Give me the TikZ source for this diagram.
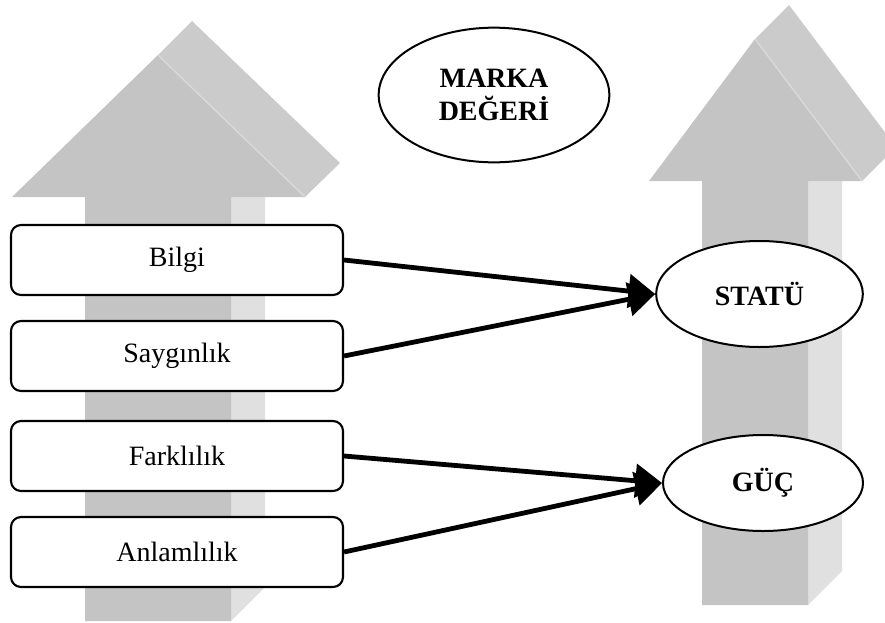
\documentclass[tikz,border=0pt]{standalone}
\usepackage{fontspec}
\setmainfont{Liberation Serif}
\usetikzlibrary{shapes.geometric,arrows.meta}
\definecolor{facefront}{HTML}{C4C4C4}
\definecolor{facetop}{HTML}{CBCBCB}
\definecolor{faceside}{HTML}{E0E0E0}
\definecolor{ridge}{HTML}{DADADA}
\begin{document}
\begin{tikzpicture}[x=0.75pt,y=-0.75pt,
  every node/.style={font=\fontsize{21}{25}\selectfont},
  itembox/.style={draw, line width=1.6pt, rounded corners=7.5pt, fill=white,
    minimum width=249pt, minimum height=52.5pt, inner sep=0pt},
  goal/.style={draw, ellipse, line width=1.5pt, fill=white, inner sep=0pt,
    align=center, font=\fontsize{21}{24.75}\selectfont\bfseries},
  link/.style={line width=3.6pt, -{Triangle[length=20pt,width=25pt]}},
  ridgeline/.style={ridge, line width=1pt}
]
\useasboundingbox (0,0) rectangle (885,622);

% three-dimensional gray arrows
\begin{scope}
\clip (0,0) rectangle (885,622);
% left arrow
\fill[faceside] (231,180) -- (265,180) -- (265,587) -- (231,621) -- cycle;
\fill[facetop] (158,55) -- (192,21) -- (340,163) -- (305,197) -- cycle;
\fill[facefront] (85,621) -- (85,197) -- (12,197) -- (158,55) -- (305,197)
  -- (231,197) -- (231,621) -- cycle;
\draw[ridgeline] (158,55) -- (305,197);
% right arrow
\fill[faceside] (808,170) -- (842,170) -- (842,571) -- (808,605) -- cycle;
\fill[facetop] (755,39) -- (789,5) -- (896,147) -- (862,181) -- cycle;
\fill[facefront] (702,605) -- (702,181) -- (649,181) -- (755,39) -- (862,181)
  -- (808,181) -- (808,605) -- cycle;
\draw[ridgeline] (755,39) -- (862,181);
\end{scope}

% factor boxes
\node[itembox] (bilgi) at (177,260) {Bilgi};
\node[itembox] (saygi) at (177,356) {Saygınlık};
\node[itembox] (fark) at (177,456) {Farklılık};
\node[itembox] (anlam) at (177,552) {Anlamlılık};

% outcome ellipses
\node[goal, minimum width=173pt, minimum height=101pt] (marka) at (494,95) {MARKA\\DEĞERİ};
\node[goal, minimum width=155pt, minimum height=79.5pt] (statu) at (759.5,294) {STATÜ};
\node[goal, minimum width=150pt, minimum height=72pt] (guc) at (763,483) {GÜÇ};

% connectors
\draw[link] (bilgi.east) -- (statu.west);
\draw[link] (saygi.east) -- (statu.west);
\draw[link] (fark.east) -- (guc.west);
\draw[link] (anlam.east) -- (guc.west);
\end{tikzpicture}
\end{document}
